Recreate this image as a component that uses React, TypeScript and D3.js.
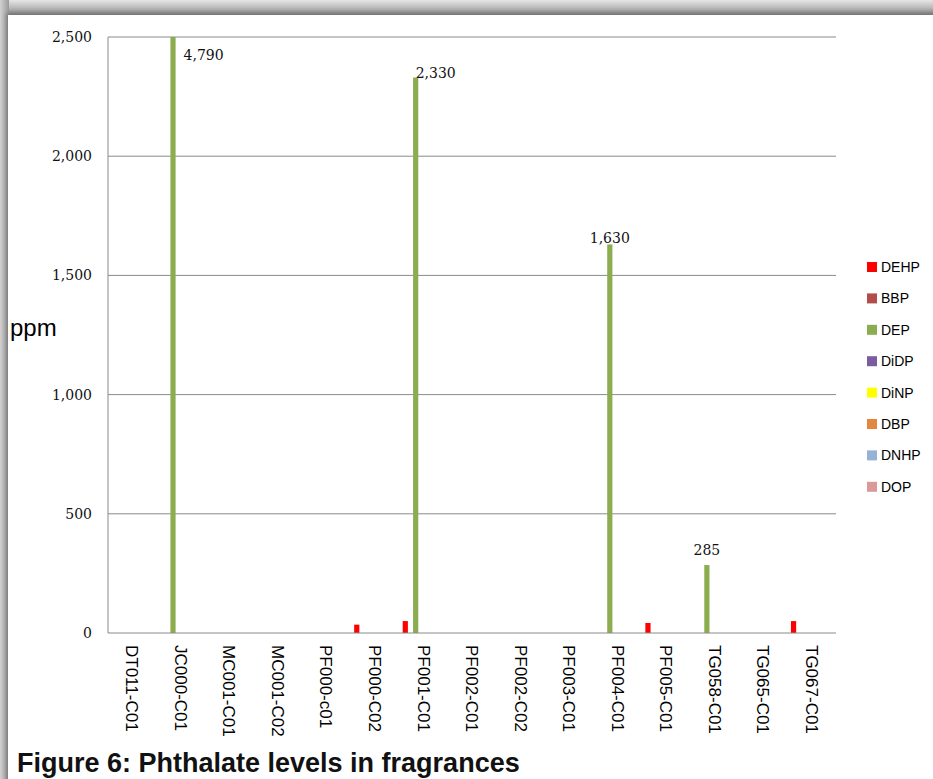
import React from "react"
import * as d3 from "d3"

const categories = [
  "DT011-C01", "JC000-C01", "MC001-C01", "MC001-C02", "PF000-c01",
  "PF000-C02", "PF001-C01", "PF002-C01", "PF002-C02", "PF003-C01",
  "PF004-C01", "PF005-C01", "TG058-C01", "TG065-C01", "TG067-C01",
]

const seriesNames = ["DEHP", "BBP", "DEP", "DiDP", "DiNP", "DBP", "DNHP", "DOP"]
const seriesColors = ["#ff0000", "#b24d4a", "#8cad4f", "#7a5d9e", "#ffff00", "#e2873f", "#95b3d7", "#d99a99"]

// ppm per sample, one array per phthalate
const DEHP = [0, 0, 0, 0, 0, 35, 50, 0, 0, 0, 0, 42, 0, 0, 50]
const BBP = [0, 0, 0, 0, 0, 0, 0, 0, 0, 0, 0, 0, 0, 0, 0]
const DEP = [0, 4790, 0, 0, 0, 0, 2330, 0, 0, 0, 1630, 0, 285, 0, 0]
const DiDP = [0, 0, 0, 0, 0, 0, 0, 0, 0, 0, 0, 0, 0, 0, 0]
const DiNP = [0, 0, 0, 0, 0, 0, 0, 0, 0, 0, 0, 0, 0, 0, 0]
const DBP = [0, 0, 0, 0, 0, 0, 0, 0, 0, 0, 0, 0, 0, 0, 0]
const DNHP = [0, 0, 0, 0, 0, 0, 0, 0, 0, 0, 0, 0, 0, 0, 0]
const DOP = [0, 0, 0, 0, 0, 0, 0, 0, 0, 0, 0, 0, 0, 0, 0]

const yTicks = [0, 500, 1000, 1500, 2000, 2500]

const W = 933
const H = 779
const plot = { left: 108, right: 836, top: 37, bottom: 633 }

export default function App() {
  const values = [DEHP, BBP, DEP, DiDP, DiNP, DBP, DNHP, DOP]
  const yMax = yTicks[yTicks.length - 1]

  const x0 = d3.scaleBand<string>()
    .domain(categories)
    .range([plot.left, plot.right])
    .paddingInner(0.144)
    .paddingOuter(0.072)

  const x1 = d3.scaleBand<string>()
    .domain(seriesNames)
    .range([0, x0.bandwidth()])

  const y = d3.scaleLinear().domain([0, yMax]).range([plot.bottom, plot.top])
  const fmt = d3.format(",")

  // hand placement of the DEP value labels, as in the original
  const labelPlace: Record<string, { anchor: string; dx: number; dy: number; right?: boolean }> = {
    "JC000-C01": { anchor: "start", dx: 8, dy: 23, right: true },
    "PF001-C01": { anchor: "start", dx: 0, dy: 0 },
    "PF004-C01": { anchor: "middle", dx: 0, dy: -1 },
    "TG058-C01": { anchor: "middle", dx: 0, dy: -10 },
  }

  const depIdx = seriesNames.indexOf("DEP")

  return (
    <svg
      width={W}
      height={H}
      style={{ position: "absolute", left: 0, top: 0, display: "block" }}
      fontFamily="'Liberation Sans', Arial, sans-serif"
    >
      <defs>
        <linearGradient id="topStrip" x1="0" y1="0" x2="0" y2="1">
          <stop offset="0" stopColor="#e6e6e6" />
          <stop offset="1" stopColor="#8c8c8c" />
        </linearGradient>
        <linearGradient id="leftStrip" x1="0" y1="0" x2="1" y2="0">
          <stop offset="0" stopColor="#d2d2d2" />
          <stop offset="1" stopColor="#9a9a9a" />
        </linearGradient>
        <filter id="blur" x="-5%" y="-5%" width="110%" height="110%">
          <feGaussianBlur stdDeviation="2.5" />
        </filter>
      </defs>

      {/* picture frame */}
      <rect x={0} y={0} width={W} height={H} fill="#d4d4d4" />
      <rect x={0} y={0} width={W} height={16} fill="url(#topStrip)" />
      <rect x={0} y={0} width={9} height={H} fill="url(#leftStrip)" />
      <rect x={7} y={13} width={W} height={H} fill="#6e6e6e" filter="url(#blur)" />
      <rect x={8} y={15} width={W} height={H} fill="#ffffff" />

      {/* gridlines */}
      {yTicks.filter((t) => t > 0).map((t) => (
        <line key={t} x1={plot.left} x2={plot.right} y1={y(t)} y2={y(t)} stroke="#8a8a8a" strokeWidth={1} />
      ))}

      {/* y tick labels */}
      {yTicks.map((t) => (
        <text
          key={"l" + t}
          x={92}
          y={y(t)}
          dy="0.35em"
          textAnchor="end"
          fontFamily="'DejaVu Serif', serif"
          fontSize={14}
          fill="#111"
        >
          {fmt(t)}
        </text>
      ))}

      {/* bars */}
      {values.map((vals, s) => (
        <g key={seriesNames[s]} fill={seriesColors[s]}>
          {vals.map((v, c) => {
            if (!v) return null
            const top = y(Math.min(v, yMax))
            return (
              <rect
                key={c}
                x={(x0(categories[c]) ?? 0) + (x1(seriesNames[s]) ?? 0)}
                y={top}
                width={x1.bandwidth()}
                height={plot.bottom - top}
              />
            )
          })}
        </g>
      ))}

      {/* axes */}
      <line x1={plot.left} x2={plot.left} y1={plot.top} y2={plot.bottom} stroke="#8a8a8a" strokeWidth={1} />
      <line x1={plot.left} x2={plot.right} y1={plot.bottom} y2={plot.bottom} stroke="#8a8a8a" strokeWidth={1} />

      {/* DEP value labels */}
      {DEP.map((v, c) => {
        if (!v) return null
        const p = labelPlace[categories[c]] ?? { anchor: "middle", dx: 0, dy: -2 }
        const bx = (x0(categories[c]) ?? 0) + (x1(seriesNames[depIdx]) ?? 0)
        const cx = p.right ? bx + x1.bandwidth() : bx + x1.bandwidth() / 2
        return (
          <text
            key={"v" + c}
            x={cx + p.dx}
            y={y(Math.min(v, yMax)) + p.dy}
            textAnchor={p.anchor}
            fontFamily="'DejaVu Serif', serif"
            fontSize={14}
            fill="#111"
          >
            {fmt(v)}
          </text>
        )
      })}

      {/* category labels */}
      {categories.map((c) => {
        const cx = (x0(c) ?? 0) + x0.bandwidth() / 2
        return (
          <text
            key={c}
            transform={`translate(${cx},645) rotate(90)`}
            dy="0.35em"
            fontSize={17}
            fill="#000"
          >
            {c}
          </text>
        )
      })}

      {/* y axis title */}
      <text x={10} y={336} fontSize={24} fill="#000">ppm</text>

      {/* legend */}
      {seriesNames.map((name, i) => {
        const ly = 267 + i * 31.4
        return (
          <g key={"lg" + name}>
            <rect x={867} y={ly - 5} width={10} height={10} fill={seriesColors[i]} />
            <text x={881} y={ly} dy="0.36em" fontSize={14} fill="#000">{name}</text>
          </g>
        )
      })}

      {/* figure caption */}
      <text x={17} y={772} fontSize={27} fontWeight="bold" fill="#111">
        Figure 6: Phthalate levels in fragrances
      </text>
    </svg>
  )
}
